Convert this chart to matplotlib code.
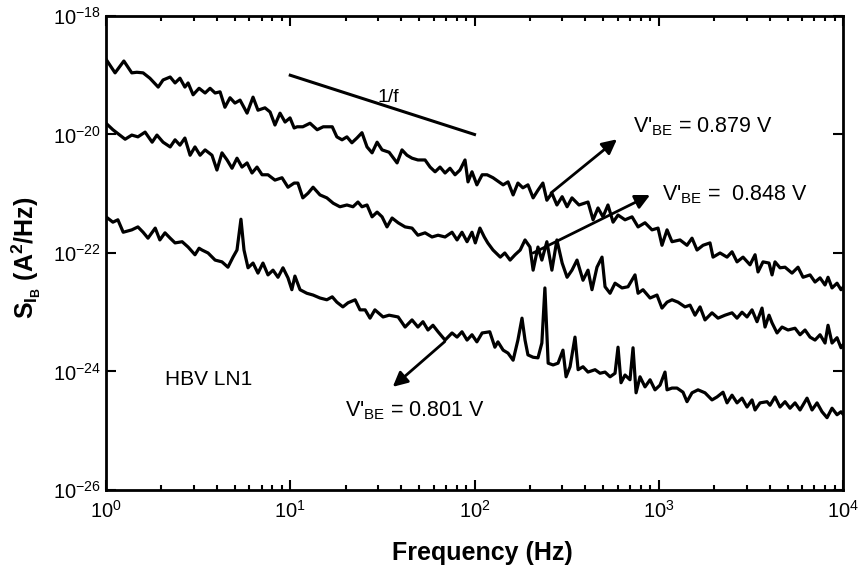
"""Base-current noise spectra S_IB of an HBV LN1 device at three V'BE bias points."""

import matplotlib

matplotlib.use("Agg")
import matplotlib.pyplot as plt
import numpy as np
from matplotlib.ticker import FixedLocator, NullLocator

plt.rcParams["font.family"] = ["Liberation Sans", "DejaVu Sans"]
plt.rcParams["mathtext.fontset"] = "custom"
plt.rcParams["mathtext.rm"] = "Liberation Sans"
plt.rcParams["mathtext.it"] = "Liberation Sans:italic"
plt.rcParams["mathtext.bf"] = "Liberation Sans:bold"

# V'BE = 0.879 V  (frequency in Hz, log10 of S_IB in A^2/Hz)
f_879 = [1.00, 1.12, 1.25, 1.38, 1.47, 1.59, 1.73, 1.92, 2.04, 2.23,
         2.37, 2.52, 2.68, 2.79, 2.97, 3.20, 3.45, 3.67, 3.91, 4.16,
         4.42, 4.71, 5.01, 5.34, 5.83, 6.28, 6.68, 7.29, 7.77, 8.26,
         8.80, 9.37, 9.97, 10.5, 10.9, 11.7, 12.8, 14.0, 15.1, 16.9,
         17.9, 19.1, 20.3, 21.6, 23.0, 24.5, 26.1, 27.8, 29.6, 31.5,
         34.4, 38.0, 40.4, 43.0, 45.8, 49.3, 53.9, 57.4, 61.1, 65.0,
         69.2, 73.6, 78.4, 83.4, 88.8, 92.2, 96.9, 103, 110, 117,
         126, 143, 152, 162, 172, 183, 195, 208, 221, 235,
         247, 263, 280, 299, 318, 338, 369, 413, 440, 468,
         498, 530, 565, 601, 656, 716, 772, 842, 919, 991,
         1041, 1109, 1180, 1304, 1423, 1515, 1613, 1739, 1897, 1970,
         2150, 2347, 2498, 2659, 2866, 3128, 3331, 3457, 3679, 3966,
         4119, 4274, 4550, 4845, 5287, 5698, 6067, 6622, 7047, 7504,
         7987, 8291, 8716, 9278, 9752, 10000]
s_879 = [-18.73, -18.96, -18.76, -18.96, -18.95, -18.96, -19.05, -19.20, -19.08, -19.03,
         -19.13, -19.05, -19.20, -19.13, -19.33, -19.22, -19.30, -19.22, -19.30, -19.28,
         -19.54, -19.38, -19.47, -19.42, -19.64, -19.37, -19.59, -19.55, -19.62, -19.84,
         -19.64, -19.79, -19.72, -19.89, -19.87, -19.87, -19.81, -19.92, -19.87, -19.87,
         -20.04, -20.09, -20.04, -20.14, -20.06, -19.97, -20.21, -20.31, -20.13, -20.26,
         -20.30, -20.48, -20.26, -20.35, -20.40, -20.43, -20.43, -20.55, -20.63, -20.55,
         -20.65, -20.57, -20.68, -20.60, -20.43, -20.80, -20.63, -20.85, -20.68, -20.68,
         -20.73, -20.85, -20.80, -21.02, -20.82, -20.90, -20.85, -21.07, -20.94, -20.82,
         -21.11, -20.99, -21.19, -21.05, -21.22, -21.07, -21.19, -21.14, -21.44, -21.24,
         -21.39, -21.19, -21.48, -21.36, -21.44, -21.39, -21.56, -21.49, -21.61, -21.58,
         -21.87, -21.61, -21.81, -21.78, -21.87, -21.75, -21.95, -21.87, -21.83, -22.07,
         -22.00, -22.07, -21.98, -22.15, -22.07, -22.20, -22.03, -22.32, -22.15, -22.17,
         -22.37, -22.15, -22.25, -22.24, -22.34, -22.24, -22.41, -22.37, -22.49, -22.42,
         -22.54, -22.41, -22.59, -22.51, -22.62, -22.58]

# V'BE = 0.848 V
f_848 = [1.00, 1.09, 1.27, 1.38, 1.49, 1.63, 1.78, 1.89, 2.04, 2.23,
         2.37, 2.52, 2.68, 2.86, 3.04, 3.24, 3.45, 3.76, 4.00, 4.26,
         4.54, 4.83, 5.14, 5.47, 5.83, 6.20, 6.60, 7.03, 7.57, 8.26,
         9.02, 9.72, 10.5, 11.0, 11.7, 12.5, 13.3, 14.5, 15.8, 17.1,
         18.6, 20.3, 21.9, 23.3, 24.5, 26.1, 27.8, 29.6, 31.5, 33.5,
         35.7, 38.5, 42.0, 45.8, 49.3, 53.9, 58.8, 63.4, 69.2, 75.5,
         80.4, 85.5, 91.1, 96.9, 101, 107, 113, 118, 126, 138,
         146, 156, 166, 177, 188, 200, 208, 221, 232, 247,
         263, 280, 299, 318, 338, 360, 388, 413, 434, 462,
         492, 511, 544, 579, 632, 681, 743, 772, 821, 897,
         978, 1041, 1109, 1180, 1272, 1388, 1478, 1573, 1675, 1782,
         1945, 2097, 2289, 2498, 2659, 2830, 3013, 3207, 3414, 3634,
         3773, 3966, 4119, 4384, 4667, 5029, 5490, 5844, 6220, 6622,
         7047, 7504, 7987, 8291, 8716, 9278, 9752, 10000]
s_848 = [-19.81, -19.92, -20.08, -20.01, -20.04, -19.96, -20.13, -20.01, -20.13, -20.21,
         -20.09, -20.18, -20.06, -20.35, -20.21, -20.35, -20.26, -20.35, -20.60, -20.31,
         -20.43, -20.57, -20.40, -20.55, -20.48, -20.65, -20.55, -20.68, -20.68, -20.77,
         -20.73, -20.89, -20.82, -20.82, -21.07, -20.99, -20.89, -21.02, -21.07, -21.16,
         -21.22, -21.19, -21.22, -21.14, -21.22, -21.19, -21.39, -21.31, -21.39, -21.56,
         -21.41, -21.49, -21.56, -21.58, -21.70, -21.66, -21.73, -21.70, -21.73, -21.65,
         -21.78, -21.65, -21.81, -21.65, -21.83, -21.58, -21.73, -21.83, -21.95, -22.07,
         -22.00, -22.12, -22.03, -21.95, -21.78, -21.90, -22.29, -21.90, -22.12, -21.81,
         -22.29, -21.78, -22.17, -22.41, -22.29, -22.12, -22.46, -22.29, -22.62, -22.24,
         -22.07, -22.57, -22.68, -22.51, -22.59, -22.57, -22.37, -22.68, -22.62, -22.76,
         -22.71, -22.93, -22.83, -22.79, -22.83, -22.91, -22.88, -23.05, -22.91, -23.13,
         -23.01, -23.10, -23.05, -23.01, -23.10, -23.00, -23.08, -22.96, -23.16, -22.93,
         -23.25, -23.05, -23.18, -23.35, -23.25, -23.30, -23.27, -23.38, -23.30, -23.42,
         -23.47, -23.38, -23.52, -23.22, -23.52, -23.43, -23.60, -23.55]

# V'BE = 0.801 V
f_801 = [1.00, 1.09, 1.16, 1.24, 1.38, 1.49, 1.59, 1.69, 1.85, 1.96,
         2.09, 2.23, 2.37, 2.59, 2.79, 3.04, 3.20, 3.32, 3.58, 3.91,
         4.26, 4.59, 4.89, 5.14, 5.40, 5.61, 5.90, 6.28, 6.68, 7.11,
         7.57, 8.06, 8.58, 9.13, 9.72, 10.2, 10.6, 11.3, 12.3, 13.3,
         14.5, 15.8, 16.9, 17.9, 19.3, 20.6, 22.5, 23.9, 25.5, 27.1,
         28.8, 31.9, 34.4, 38.5, 42.0, 45.8, 49.3, 52.5, 55.9, 59.5,
         63.4, 69.2, 75.5, 80.4, 85.5, 91.1, 96.9, 103, 110, 121,
         129, 134, 143, 152, 162, 172, 181, 188, 195, 208,
         221, 232, 241, 251, 267, 284, 302, 314, 330, 351,
         365, 388, 413, 451, 480, 511, 544, 579, 601, 624,
         656, 698, 725, 753, 791, 842, 897, 954, 1016, 1081,
         1109, 1180, 1256, 1354, 1423, 1515, 1633, 1782, 1945, 2071,
         2232, 2347, 2498, 2659, 2830, 3013, 3207, 3331, 3544, 3869,
         4016, 4274, 4550, 4845, 5156, 5490, 5844, 6378, 6789, 7227,
         7692, 8189, 8716, 9278, 9752, 10000]
s_801 = [-21.39, -21.48, -21.44, -21.65, -21.61, -21.56, -21.65, -21.75, -21.58, -21.78,
         -21.66, -21.75, -21.83, -21.81, -21.90, -22.03, -21.92, -21.95, -22.00, -22.12,
         -22.15, -22.24, -22.07, -21.95, -21.43, -21.95, -22.25, -22.17, -22.34, -22.17,
         -22.37, -22.29, -22.41, -22.25, -22.42, -22.62, -22.39, -22.62, -22.68, -22.71,
         -22.76, -22.79, -22.74, -22.83, -22.91, -22.84, -22.79, -22.96, -22.96, -23.10,
         -22.96, -23.08, -23.05, -23.08, -23.25, -23.13, -23.25, -23.16, -23.30, -23.22,
         -23.33, -23.47, -23.35, -23.42, -23.33, -23.47, -23.38, -23.50, -23.35, -23.33,
         -23.59, -23.50, -23.64, -23.69, -23.81, -23.47, -23.10, -23.47, -23.72, -23.76,
         -23.77, -23.52, -22.59, -23.86, -23.89, -23.86, -23.64, -24.09, -23.92, -23.42,
         -23.97, -23.92, -24.01, -23.97, -24.03, -24.01, -24.09, -24.03, -23.59, -24.19,
         -24.06, -24.14, -23.60, -24.36, -24.09, -24.26, -24.14, -24.31, -24.23, -24.01,
         -24.31, -24.28, -24.28, -24.35, -24.51, -24.36, -24.31, -24.36, -24.48, -24.43,
         -24.35, -24.53, -24.40, -24.53, -24.45, -24.60, -24.48, -24.65, -24.53, -24.51,
         -24.57, -24.43, -24.60, -24.51, -24.62, -24.53, -24.65, -24.45, -24.65, -24.53,
         -24.68, -24.78, -24.62, -24.73, -24.68, -24.72]

# 1/f reference slope
slope_f = [10, 100]
slope_s = [1e-19, 1e-20]

y_ticks = [1e-26, 1e-24, 1e-22, 1e-20, 1e-18]
x_ticks = [1, 10, 100, 1000, 10000]


def main() -> None:
    fig = plt.figure(figsize=(8.59, 5.73), dpi=100)
    ax = fig.add_axes([0.1234, 0.1449, 0.858, 0.8272])

    for f, s in [(f_879, s_879), (f_848, s_848), (f_801, s_801)]:
        ax.loglog(f, 10.0 ** np.array(s), color="black", lw=2.3)

    ax.loglog(slope_f, slope_s, color="black", lw=2.2)
    ax.text(34, 4.2e-20, "1/f", fontsize=14, ha="center", va="center")

    arrow = dict(arrowstyle="-|>", color="black", lw=2.0,
                 mutation_scale=22, shrinkA=0, shrinkB=0)
    ax.annotate("", xy=(593, 8.3e-21), xytext=(260, 1.03e-21), arrowprops=arrow)
    ax.annotate("", xy=(897, 9.5e-22), xytext=(208, 1.0e-22), arrowprops=arrow)
    ax.annotate("", xy=(36, 5.5e-25), xytext=(69, 3.2e-24), arrowprops=arrow)

    lbl = dict(fontsize=15.5, ha="left", va="center")
    ax.text(725, 1.34e-20, r"V'$_{\mathrm{BE}}$ = 0.879 V", **lbl)
    ax.text(1041, 9.5e-22, r"V'$_{\mathrm{BE}}$ =  0.848 V", **lbl)
    ax.text(19.8, 2.2e-25, r"V'$_{\mathrm{BE}}$ = 0.801 V", **lbl)
    ax.text(2.09, 7.2e-25, "HBV LN1", fontsize=15, ha="left", va="center")

    ax.set_xlim(1, 1e4)
    ax.set_ylim(1e-26, 1e-18)
    ax.yaxis.set_major_locator(FixedLocator(y_ticks))
    ax.yaxis.set_minor_locator(NullLocator())
    ax.xaxis.set_major_locator(FixedLocator(x_ticks))
    minor_x = [m * d for d in x_ticks[:-1] for m in range(2, 10)]
    ax.xaxis.set_minor_locator(FixedLocator(minor_x))
    ax.tick_params(which="both", direction="in", top=True, right=True,
                   labelsize=14.5, width=1.5)
    ax.tick_params(axis="x", pad=7)
    ax.tick_params(which="major", length=7)
    ax.tick_params(which="minor", length=3.5)
    for sp in ax.spines.values():
        sp.set_linewidth(2.0)

    ax.set_xlabel("Frequency (Hz)", fontsize=18, fontweight="bold")
    ax.xaxis.set_label_coords(0.51, -0.108)
    ax.set_ylabel(r"$\mathbf{S}_{\mathbf{I}_{\mathbf{B}}}$ (A$^{\mathbf{2}}$/Hz)",
                  fontsize=18, fontweight="bold")
    ax.yaxis.set_label_coords(-0.086, 0.49)

    fig.savefig("out.png", dpi=100)
    plt.close(fig)


if __name__ == "__main__":
    main()
